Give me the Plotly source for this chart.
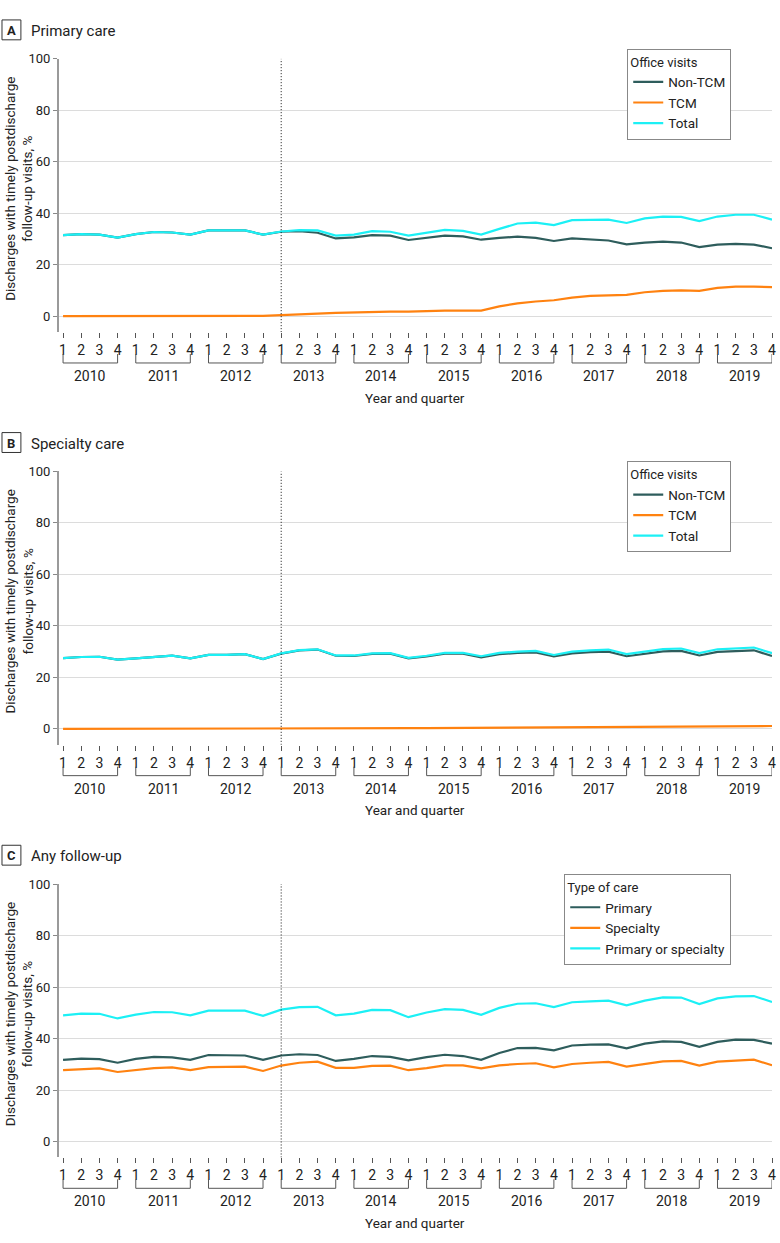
import plotly.graph_objects as go

# quarters 2010 Q1 .. 2019 Q4
years = [2010, 2011, 2012, 2013, 2014, 2015, 2016, 2017, 2018, 2019]
quarter_labels = ["1", "2", "3", "4"]
periods = [f"{y} Q{q}" for y in years for q in quarter_labels]

# A  Primary care (office visits, %)
a_non_tcm = [31.5, 31.9, 31.7, 30.5, 31.9, 32.7, 32.5, 31.7, 33.3, 33.3, 33.3, 31.7,
             32.8, 33.0, 32.4, 30.2, 30.6, 31.5, 31.3, 29.6, 30.5, 31.3, 31.0, 29.7,
             30.4, 30.9, 30.4, 29.2, 30.2, 29.7, 29.4, 27.9, 28.6, 29.0, 28.6, 26.8,
             27.8, 28.1, 27.8, 26.4]
a_tcm = [0.0, 0.0, 0.0, 0.0, 0.0, 0.0, 0.0, 0.0, 0.0, 0.0, 0.0, 0.1,
         0.4, 0.6, 1.0, 1.3, 1.5, 1.8, 1.8, 1.8, 2.1, 2.2, 2.2, 2.2,
         3.8, 5.0, 5.7, 6.2, 7.2, 7.9, 8.1, 8.3, 9.3, 9.8, 10.0, 9.8,
         11.0, 11.5, 11.5, 11.3]
a_total = [31.5, 31.9, 31.7, 30.5, 31.9, 32.7, 32.5, 31.7, 33.3, 33.3, 33.3, 31.7,
           32.9, 33.4, 33.3, 31.3, 31.7, 33.0, 32.8, 31.3, 32.4, 33.5, 33.1, 31.7,
           33.9, 36.0, 36.3, 35.4, 37.3, 37.5, 37.5, 36.2, 38.0, 38.7, 38.6, 36.9,
           38.7, 39.4, 39.4, 37.5]

# B  Specialty care (office visits, %)
b_non_tcm = [27.5, 27.9, 28.0, 26.9, 27.4, 28.0, 28.4, 27.4, 28.7, 28.7, 29.0, 27.1,
             29.2, 30.5, 30.8, 28.4, 28.3, 29.1, 29.2, 27.4, 28.1, 29.2, 29.2, 27.8,
             29.0, 29.5, 29.7, 28.1, 29.3, 29.8, 30.0, 28.2, 29.2, 30.1, 30.3, 28.5,
             29.9, 30.2, 30.5, 28.3]
b_tcm = [0.0, 0.0, 0.0, 0.0, 0.0, 0.0, 0.0, 0.0, 0.0, 0.0, 0.0, 0.0,
         0.05, 0.1, 0.1, 0.15, 0.2, 0.2, 0.25, 0.25, 0.3, 0.35, 0.35, 0.4,
         0.5, 0.55, 0.6, 0.6, 0.7, 0.75, 0.8, 0.8, 0.85, 0.9, 0.95, 0.95,
         1.0, 1.05, 1.1, 1.1]
b_total = [27.5, 27.9, 28.0, 26.9, 27.4, 28.0, 28.4, 27.4, 28.7, 28.7, 29.0, 27.1,
           29.3, 30.6, 30.9, 28.5, 28.5, 29.3, 29.4, 27.6, 28.4, 29.5, 29.5, 28.2,
           29.5, 30.0, 30.3, 28.7, 30.0, 30.5, 30.8, 29.0, 30.0, 31.0, 31.2, 29.4,
           30.9, 31.3, 31.6, 29.4]

# C  Any follow-up (%)
c_primary = [31.7, 32.2, 32.0, 30.6, 32.1, 32.9, 32.7, 31.7, 33.6, 33.5, 33.4, 31.7,
             33.4, 33.9, 33.6, 31.3, 32.1, 33.2, 32.9, 31.5, 32.8, 33.7, 33.2, 31.7,
             34.4, 36.3, 36.4, 35.4, 37.3, 37.6, 37.7, 36.2, 38.0, 38.9, 38.7, 36.8,
             38.7, 39.6, 39.5, 38.0]
c_specialty = [27.7, 28.1, 28.4, 27.0, 27.7, 28.5, 28.8, 27.7, 28.9, 29.0, 29.1, 27.4,
               29.5, 30.6, 31.0, 28.6, 28.6, 29.4, 29.5, 27.7, 28.5, 29.6, 29.6, 28.4,
               29.6, 30.1, 30.4, 28.8, 30.1, 30.6, 30.9, 29.1, 30.1, 31.1, 31.3, 29.5,
               31.0, 31.4, 31.8, 29.6]
c_any = [49.0, 49.7, 49.6, 47.8, 49.3, 50.3, 50.2, 49.0, 50.8, 50.8, 50.8, 48.8,
         51.2, 52.2, 52.3, 49.0, 49.7, 51.1, 51.0, 48.3, 50.1, 51.4, 51.1, 49.2,
         51.9, 53.5, 53.7, 52.2, 54.1, 54.4, 54.7, 52.9, 54.7, 56.0, 55.9, 53.4,
         55.6, 56.4, 56.5, 54.2]

policy_start = "2013 Q1"

W, H = 780, 1243
FONT = "Roboto, Liberation Sans, sans-serif"
TEAL = "#2e5d5c"
ORANGE = "#ff8210"
CYAN = "#1cf0f5"
INK = "#222222"


def py(p):
    # pixel row -> paper y
    return 1 - p / H


def px(p):
    return p / W


panels = [
    dict(letter="A", title="Primary care", legend_title="Office visits",
         series=[("Non-TCM", a_non_tcm, TEAL), ("TCM", a_tcm, ORANGE), ("Total", a_total, CYAN)]),
    dict(letter="B", title="Specialty care", legend_title="Office visits",
         series=[("Non-TCM", b_non_tcm, TEAL), ("TCM", b_tcm, ORANGE), ("Total", b_total, CYAN)]),
    dict(letter="C", title="Any follow-up", legend_title="Type of care",
         series=[("Primary", c_primary, TEAL), ("Specialty", c_specialty, ORANGE),
                 ("Primary or specialty", c_any, CYAN)]),
]

fig = go.Figure()
shapes = []
annotations = []
layout = {}

x_dom = [px(59), px(776)]
y_rng = [-6.2, 100]

for k, p in enumerate(panels):
    off = 415 * k
    sfx = "" if k == 0 else str(k + 1)
    xa, ya = "x" + sfx, "y" + sfx
    leg = "legend" + sfx

    for name, vals, col in p["series"]:
        fig.add_trace(go.Scatter(
            x=periods, y=vals, name=name, mode="lines",
            line=dict(color=col, width=2.2),
            xaxis=xa, yaxis=ya, legend=leg, hoverinfo="x+y+name"))

    layout["xaxis" + sfx] = dict(
        domain=x_dom, anchor=ya, type="category",
        categoryorder="array", categoryarray=periods,
        range=[-0.24, 39.0], tickmode="array", tickvals=periods,
        ticktext=[q for _ in years for q in quarter_labels],
        ticks="outside", ticklen=5, tickwidth=1, tickcolor="#555",
        showline=False, showgrid=False, zeroline=False,
        tickfont=dict(size=14, color=INK, family=FONT))
    layout["yaxis" + sfx] = dict(
        domain=[py(327 + off), py(52 + off)], anchor=xa,
        range=y_rng, tickvals=[0, 20, 40, 60, 80, 100],
        ticks="outside", ticklen=4, tickcolor="#888", tickwidth=1,
        showline=True, linecolor="#9a9a9a", linewidth=1.5,
        showgrid=True, gridcolor="#dcdcdc", gridwidth=1, zeroline=False,
        tickfont=dict(size=13, color=INK, family=FONT))

    layout[leg] = dict(
        title=dict(text=p["legend_title"], font=dict(size=13, color=INK, family=FONT)),
        x=px(735), xanchor="right", y=py(42 + off), yanchor="top",
        bgcolor="white", bordercolor="#888", borderwidth=1,
        font=dict(size=13.5, color=INK, family=FONT), tracegroupgap=0)

    # dotted line at TCM introduction
    xi = periods.index(policy_start)
    shapes.append(dict(type="line", xref=xa, yref=ya, x0=xi, x1=xi, y0=y_rng[0], y1=y_rng[1],
                       line=dict(color="#111", width=1, dash="1px,2px")))

    # year brackets and labels
    for y in years:
        i0 = periods.index(f"{y} Q1")
        i1 = periods.index(f"{y} Q4")
        shapes.append(dict(type="path", xref=xa, yref="paper",
                           path=f"M {i0},{py(349 + off)} L {i0},{py(358 + off)} L {i1},{py(358 + off)} L {i1},{py(349 + off)}",
                           line=dict(color="#555", width=1)))
        annotations.append(dict(x=(i0 + i1) / 2, xref=xa, y=py(371 + off), yref="paper",
                                text=str(y), showarrow=False, yanchor="middle",
                                font=dict(size=14, color=INK, family=FONT)))

    annotations.append(dict(x=(x_dom[0] + x_dom[1]) / 2, xref="paper", y=py(393 + off), yref="paper",
                            text="Year and quarter", showarrow=False, yanchor="middle",
                            font=dict(size=13.5, color=INK, family=FONT)))

    # y axis title
    annotations.append(dict(x=px(19), xref="paper", y=py(183 + off), yref="paper",
                            text="Discharges with timely postdischarge<br>follow-up visits, %",
                            textangle=-90, showarrow=False, xanchor="center", yanchor="middle",
                            font=dict(size=13.5, color=INK, family=FONT)))

    # panel letter box and title
    shapes.append(dict(type="rect", xref="paper", yref="paper",
                       x0=px(2), x1=px(21), y0=py(33 + off), y1=py(13 + off),
                       line=dict(color="#333", width=1)))
    annotations.append(dict(x=px(11.5), xref="paper", y=py(23.5 + off), yref="paper",
                            text="<b>" + p["letter"] + "</b>", showarrow=False,
                            xanchor="center", yanchor="middle",
                            font=dict(size=13, color=INK, family=FONT)))
    annotations.append(dict(x=px(29), xref="paper", y=py(24 + off), yref="paper",
                            text=p["title"], showarrow=False,
                            xanchor="left", yanchor="middle",
                            font=dict(size=15, color=INK, family=FONT)))

fig.update_layout(
    width=W, height=H, margin=dict(l=0, r=0, t=0, b=0),
    paper_bgcolor="white", plot_bgcolor="white",
    font=dict(family=FONT, color=INK),
    shapes=shapes, annotations=annotations, **layout)

fig.write_html("out.html", config={"displayModeBar": False},
               post_script="document.body.style.margin='0';")
